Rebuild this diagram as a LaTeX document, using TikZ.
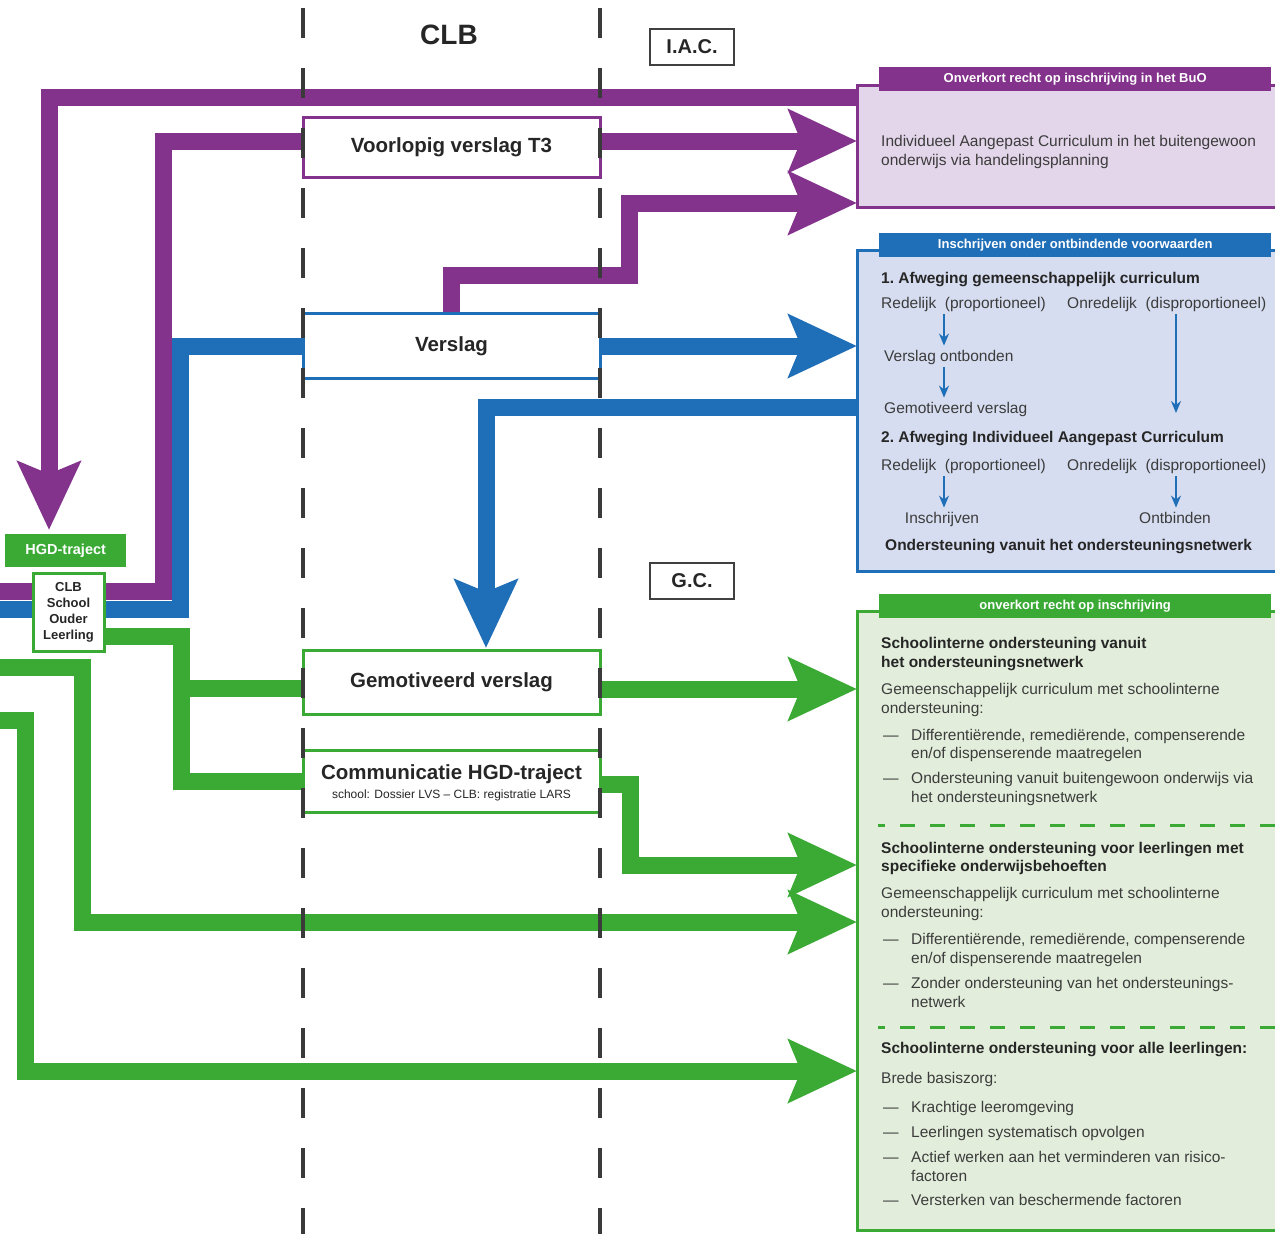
\documentclass[tikz,border=0pt]{standalone}
\usepackage{fontspec}
\setmainfont{Liberation Sans}
\usetikzlibrary{arrows.meta,calc,positioning,backgrounds}
\definecolor{iacpurple}{HTML}{84338C}
\definecolor{iacfill}{HTML}{E3D6EA}
\definecolor{onblue}{HTML}{1F6EB8}
\definecolor{onfill}{HTML}{D6DDF0}
\definecolor{gcgreen}{HTML}{3AAA35}
\definecolor{gcfill}{HTML}{E2EEDB}
\definecolor{lanegray}{HTML}{3A3A3A}
\definecolor{txtgray}{HTML}{3C3C3C}
\tikzstyle{lane}=[
  draw=lanegray,
  line width=4pt,
  dash pattern=on 30pt off 30pt,
]
\tikzstyle{title}=[
  font={\fontsize{28}{32}\selectfont\bfseries},
  text=black!85,
]
\tikzstyle{zone}=[
  draw=black!75,
  font={\fontsize{20}{24}\selectfont\bfseries},
  inner sep=0pt,
  line width=1.5pt,
  minimum height=36pt,
  minimum width=84pt,
  text=black!85,
]
\tikzstyle{stepbox}=[
  draw,
  fill=white,
  font={\fontsize{20.5}{24}\selectfont\bfseries},
  inner sep=0pt,
  line width=3pt,
  minimum width=297pt,
  outer sep=0pt,
  text=black!85,
]
\tikzstyle{infobox}=[
  anchor=north west,
  draw,
  inner sep=0pt,
  line width=3pt,
  minimum width=421pt,
  outer sep=0pt,
]
\tikzstyle{boxhead}=[
  anchor=north west,
  font={\fontsize{13}{15}\selectfont\bfseries},
  inner sep=0pt,
  minimum height=24pt,
  minimum width=392pt,
  text=white,
]
\tikzstyle{bodytext}=[
  anchor=base west,
  font={\fontsize{15.5}{18}\selectfont},
  inner sep=0pt,
  text=txtgray,
]
\tikzstyle{bodybold}=[
  bodytext,
  font={\fontsize{15.5}{18}\selectfont\bfseries},
  text=black!85,
]
\tikzstyle{flow}=[
  line width=17pt,
]
\tikzstyle{smallarrow}=[
  draw=onblue,
  line width=1.5pt,
  -{Stealth[length=12pt,width=10pt]},
  shorten <=3pt,
  shorten >=4pt,
]
\tikzstyle{sepline}=[
  draw=gcgreen,
  line width=3pt,
  dash pattern=on 15pt off 15pt,
  dash phase=8pt,
]
\tikzset{
  >={Stealth[length=68pt,width=62pt,inset=12pt]},
}
\begin{document}
\begin{tikzpicture}[x=1pt,y=-1pt]
  \useasboundingbox (0,0) rectangle (1275,1234);
  %% headings
  \node (clbtitle) [title] at (449,35) {CLB};
  \node (iac) [zone] at (692,47) {I.A.C.};
  \node (gc) [zone] at (692,581) {G.C.};
  %% CLB column
  \node (voorlopig) [stepbox, draw=iacpurple, minimum height=60pt] at (451.5,147) {Voorlopig verslag T3};
  \node (verslag) [stepbox, draw=onblue, minimum height=65pt] at (451.5,346) {Verslag};
  \node (gemot) [stepbox, draw=gcgreen, minimum height=64pt] at (451.5,682) {Gemotiveerd verslag};
  \node (commu) [stepbox, draw=gcgreen, minimum height=62pt] at (451.5,781) {};
  \node (commutitle) [stepbox, draw=none, fill=none, anchor=base, minimum width=0pt] at (451.5,779) {Communicatie HGD-traject};
  \node (commusub) [anchor=base, inner sep=0pt, font={\fontsize{12}{14}\selectfont}, text=black!85] at (451.5,798) {school: Dossier LVS – CLB: registratie LARS};
  %% left
  \node (hgd) [anchor=north west, fill=gcgreen, text=white, inner sep=0pt, minimum width=121pt, minimum height=33pt, font={\fontsize{14.5}{16}\selectfont\bfseries}] at (5,534) {HGD-traject};
  \node (clb) [fill=white, draw=gcgreen, line width=3pt, minimum width=71pt, minimum height=78pt, inner sep=0pt, outer sep=0pt, align=center, font={\fontsize{13}{16}\selectfont\bfseries}, text=black!85] at (68.5,612) {CLB\\School\\Ouder\\Leerling};
  %% right boxes
  \node (iacbox) [infobox, draw=iacpurple, fill=iacfill, minimum height=122pt] at (857,85) {};
  \node (iachead) [boxhead, fill=iacpurple] at (879,67) {Onverkort recht op inschrijving in het BuO};
  \node (onbox) [infobox, draw=onblue, fill=onfill, minimum height=321pt] at (857,250) {};
  \node (onhead) [boxhead, fill=onblue] at (879,233) {Inschrijven onder ontbindende voorwaarden};
  \node (gcbox) [infobox, draw=gcgreen, fill=gcfill, minimum height=619pt] at (857,611) {};
  \node (gchead) [boxhead, fill=gcgreen] at (879,594) {onverkort recht op inschrijving};
  %% purple box text
  \node (iactxt1) [bodytext] at (881,146) {Individueel Aangepast Curriculum in het buitengewoon};
  \node (iactxt2) [bodytext] at (881,165) {onderwijs via handelingsplanning};
  %% blue box text
  \node (afw1) [bodybold] at (881,283) {1.\ Afweging gemeenschappelijk curriculum};
  \node (red1) [bodytext] at (881,308) {Redelijk\ \ (proportioneel)};
  \node (oned1) [bodytext] at (1067,308) {Onredelijk\ \ (disproportioneel)};
  \node (ontb) [bodytext] at (884,361) {Verslag ontbonden};
  \node (gemv) [bodytext] at (884,413) {Gemotiveerd verslag};
  \node (afw2) [bodybold] at (881,442) {2.\ Afweging Individueel Aangepast Curriculum};
  \node (red2) [bodytext] at (881,470) {Redelijk\ \ (proportioneel)};
  \node (oned2) [bodytext] at (1067,470) {Onredelijk\ \ (disproportioneel)};
  \node (insch) [bodytext, anchor=base] at (942,523) {Inschrijven};
  \node (ontbind) [bodytext, anchor=base] at (1175,523) {Ontbinden};
  \node (onders) [bodybold] at (885,550) {Ondersteuning vanuit het ondersteuningsnetwerk};
  \coordinate (colA) at (944,0);
  \coordinate (colB) at (1176,0);
  \draw [smallarrow] (red1.south -| colA) -- (ontb.north -| colA);
  \draw [smallarrow] (ontb.south -| colA) -- (gemv.north -| colA);
  \draw [smallarrow, shorten >=0pt] (oned1.south -| colB) -- (gemv.base -| colB);
  \draw [smallarrow] (red2.south -| colA) -- (insch.north -| colA);
  \draw [smallarrow] (oned2.south -| colB) -- (ontbind.north -| colB);
  %% green box text
  \foreach \yy/\txt in {648/Schoolinterne ondersteuning vanuit, 667/het ondersteuningsnetwerk,
      853/Schoolinterne ondersteuning voor leerlingen met, 871/specifieke onderwijsbehoeften,
      1053/Schoolinterne ondersteuning voor alle leerlingen:}
    \node (gchd\yy) [bodybold] at (881,\yy) {\txt};
  \foreach \yy/\txt in {694/Gemeenschappelijk curriculum met schoolinterne, 713/ondersteuning:,
      898/Gemeenschappelijk curriculum met schoolinterne, 917/ondersteuning:, 1083/Brede basiszorg:}
    \node (gcbd\yy) [bodytext] at (881,\yy) {\txt};
  \foreach \yy/\txt in {740/{Differentiërende, remediërende, compenserende}, 758/{en/of dispenserende maatregelen},
      783/Ondersteuning vanuit buitengewoon onderwijs via, 802/het ondersteuningsnetwerk,
      944/{Differentiërende, remediërende, compenserende}, 963/{en/of dispenserende maatregelen},
      988/Zonder ondersteuning van het ondersteunings-, 1007/netwerk,
      1112/Krachtige leeromgeving, 1137/Leerlingen systematisch opvolgen,
      1162/Actief werken aan het verminderen van risico-, 1181/factoren,
      1205/Versterken van beschermende factoren}
    \node (gcit\yy) [bodytext] at (911,\yy) {\txt};
  \foreach \yy in {740,783,944,988,1112,1137,1162,1205}
    \node (gcdash\yy) [bodytext] at (883,\yy) {—};
  \draw [sepline] ($(gcbox.north west)+(21,214)$) -- ++(400,0);
  \draw [sepline] ($(gcbox.north west)+(21,416)$) -- ++(400,0);
  %% connectors
  \begin{scope}[on background layer]
    \fill [white] (0,0) rectangle (1275,1234);
    \coordinate (edgeP) at (0,591);
    \coordinate (edgeB) at (0,609);
    \coordinate (edgeG1) at (0,667);
    \coordinate (edgeG2) at (0,720);
    %% purple
    \draw [->, flow, iacpurple] ($(iacbox.north west)+(0,12.5)$) -| ($(hgd.north west)+(44,-4)$);
    \draw [flow, iacpurple] (edgeP) -| ($(voorlopig.west)+(-140,-6)$) -- ($(voorlopig.west)+(0,-6)$);
    \draw [->, flow, iacpurple] ($(voorlopig.east)+(0,-6)$) -- ($(voorlopig.east -| iacbox.west)+(0,-6)$);
    \draw [->, flow, iacpurple] (verslag.north) -- ++(0,-38.5) -| ++(178,-72) -- ($(iacbox.south west)+(0,-4)$);
    %% blue
    \draw [flow, onblue] (edgeB) -| ($(verslag.west)+(-123,0)$) -- (verslag.west);
    \draw [->, flow, onblue] (verslag.east) -- (verslag.east -| onbox.west);
    \draw [->, flow, onblue] ($(onbox.north west)+(0,157.5)$) -| ($(gemot.north)+(34.5,-2)$);
    %% green
    \draw [flow, gcgreen] ($(clb.east)+(0,24)$) -| ($(commu.west)+(-122,0)$) -- (commu.west);
    \draw [flow, gcgreen] ($(gemot.west)+(-130.5,6)$) -- ($(gemot.west)+(0,6)$);
    \draw [->, flow, gcgreen] ($(gemot.east)+(0,7)$) -- ($(gemot.east -| gcbox.west)+(0,7)$);
    \draw [->, flow, gcgreen] ($(commu.east)+(0,3)$) -| ($(commu.east)+(30,84)$) -- ($(commu.east -| gcbox.west)+(0,84)$);
    \draw [->, flow, gcgreen] (edgeG1) -| ($(gcbox.north west)+(-775,311)$) -- ($(gcbox.north west)+(0,311)$);
    \draw [->, flow, gcgreen] (edgeG2) -| ($(gcbox.north west)+(-832,460)$) -- ($(gcbox.north west)+(0,460)$);
  \end{scope}
  %% lanes
  \coordinate (lanetop) at (0,8);
  \coordinate (lanebot) at (0,1240);
  \draw [lane] (voorlopig.west |- lanetop) -- (voorlopig.west |- lanebot);
  \draw [lane] (voorlopig.east |- lanetop) -- (voorlopig.east |- lanebot);
\end{tikzpicture}
\end{document}
